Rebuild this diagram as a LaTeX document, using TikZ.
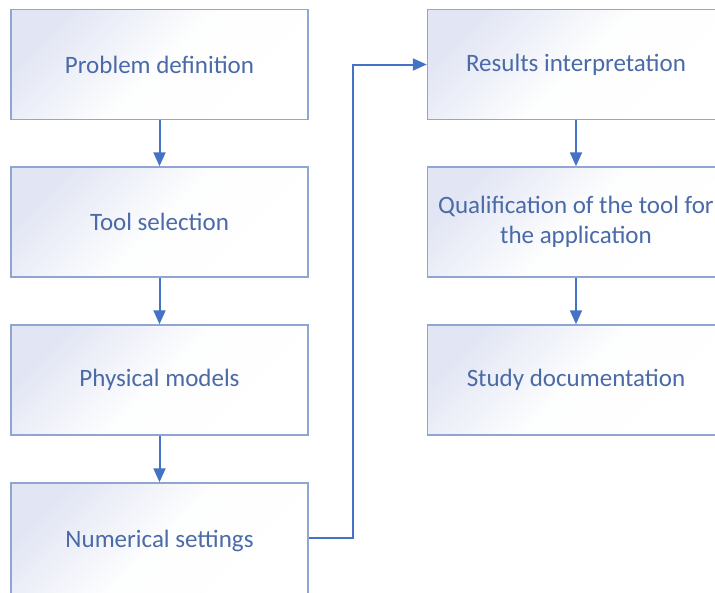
\documentclass[tikz,border=0pt]{standalone}
\usepackage{fontspec}
\setmainfont{Carlito}
\usetikzlibrary{arrows.meta,calc}
\definecolor{boxline}{HTML}{8FA7D0}
\definecolor{boxlav}{HTML}{E2E6F4}
\definecolor{boxtext}{HTML}{4A6AA8}
\definecolor{arrowblue}{HTML}{4472C4}
\tikzset{
  stage/.style={draw=boxline, line width=1.5pt,
    top color=boxlav, bottom color=white, middle color=white!94!boxlav,
    shading angle=45,
    minimum width=297pt, minimum height=110pt, inner sep=0pt,
    align=center, text=boxtext,
    font=\fontsize{25}{30.5}\selectfont},
  flow/.style={draw=arrowblue, line width=2pt,
    -{Triangle[width=12pt,length=14pt]}}
}
\begin{document}
\begin{tikzpicture}[x=1pt, y=-1pt]
  \useasboundingbox (0,0) rectangle (715,592);
  \clip (0,0) rectangle (715,592);
  \fill[white] (0,0) rectangle (715,592);

  % left column
  \node[stage] (def)  at (159.5, 64.5) {Problem definition};
  \node[stage] (sel)  at (159.5, 222)  {Tool selection};
  \node[stage] (phys) at (159.5, 380)  {Physical models};
  % last box runs past the lower edge
  \node[stage, minimum height=116pt] (num) at (159.5, 541) {\raisebox{2pt}{Numerical settings}};

  % right column
  \node[stage] (res)  at (576, 64.5) {Results interpretation};
  \node[stage] (qual) at (576, 222)  {Qualification of the tool for\\the application};
  \node[stage] (doc)  at (576, 380)  {Study documentation};

  % connectors
  \draw[flow] (def) -- (sel);
  \draw[flow] (sel) -- (phys);
  \draw[flow] (phys) -- (num);
  \coordinate (turn) at ($(num.east)+(44,-3)$);
  \draw[flow] (num.east |- turn) -- (turn) |- (res.west);
  \draw[flow] (res) -- (qual);
  \draw[flow] (qual) -- (doc);
\end{tikzpicture}
\end{document}
